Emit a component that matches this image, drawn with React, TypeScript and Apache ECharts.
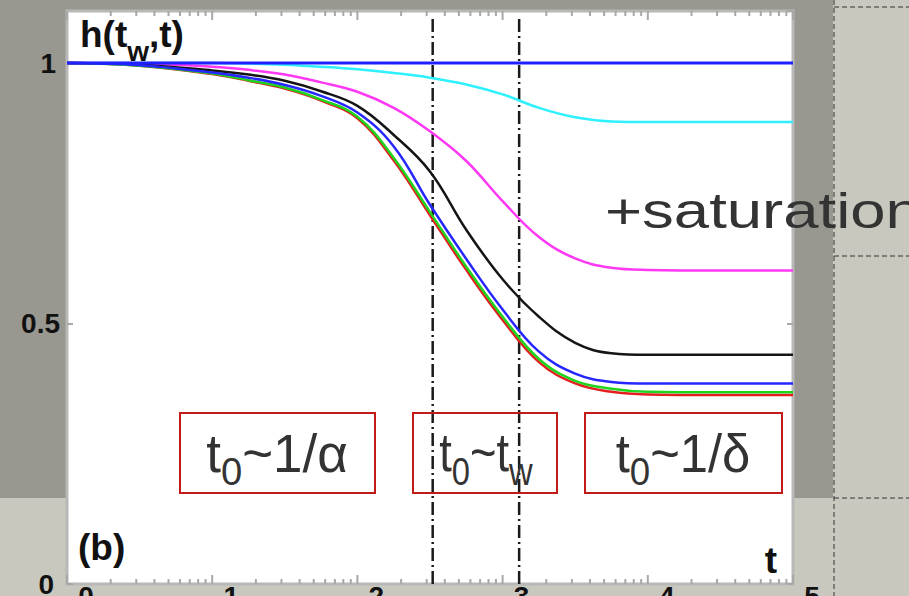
import React, { useEffect, useRef } from 'react';
import * as echarts from 'echarts';

// Sampling times (log-spaced) for every h(t_w, t) curve
const T = [1, 3.16, 10, 17.8, 31.6, 56.2, 100, 178, 316, 562, 1000, 1780, 3160, 5620, 10000, 31600, 100000];

const H_FLAT = [1, 1, 1, 1, 1, 1, 1, 1, 1, 1, 1, 1, 1, 1, 1, 1, 1];
const H_CYAN = [1, 1, 1, 0.999, 0.997, 0.993, 0.988, 0.981, 0.972, 0.959, 0.94, 0.914, 0.896, 0.888, 0.887, 0.887, 0.887];
const H_MAGENTA = [1, 0.999, 0.993, 0.987, 0.978, 0.963, 0.945, 0.914, 0.869, 0.812, 0.735, 0.666, 0.625, 0.607, 0.603, 0.602, 0.602];
const H_BLACK = [1, 0.997, 0.986, 0.978, 0.966, 0.946, 0.918, 0.862, 0.792, 0.68, 0.585, 0.513, 0.463, 0.443, 0.44, 0.44, 0.44];
const H_BLUE = [1, 0.996, 0.982, 0.972, 0.958, 0.937, 0.905, 0.84, 0.728, 0.624, 0.527, 0.446, 0.404, 0.388, 0.385, 0.385, 0.385];
const H_GREEN = [1, 0.995, 0.98, 0.967, 0.953, 0.93, 0.897, 0.818, 0.714, 0.609, 0.513, 0.432, 0.39, 0.375, 0.369, 0.368, 0.368];
const H_RED = [1, 0.995, 0.979, 0.966, 0.951, 0.928, 0.894, 0.813, 0.708, 0.603, 0.507, 0.426, 0.385, 0.369, 0.364, 0.363, 0.363];

// Crossover times marked by the dash-dot verticals
const T_MARKS = [330, 1300];
const MARK_TOP = 1.085;

// Log-axis tick positions: decades and the 2..9 multiples between them
const DECADES = [1, 10, 100, 1000, 10000, 100000];
const MINOR_STEPS = [2, 3, 4, 5, 6, 7, 8, 9];

const Y_TICKS = [0, 0.5, 1];

const FONT = '"Liberation Sans", Arial, Helvetica, sans-serif';
const INK = '#333333';

const curves = [
  { name: 'cyan', values: H_CYAN, color: '#2ef0ff' },
  { name: 'magenta', values: H_MAGENTA, color: '#ff38f4' },
  { name: 'black', values: H_BLACK, color: '#151515' },
  { name: 'red', values: H_RED, color: '#e41e1e' },
  { name: 'green', values: H_GREEN, color: '#1ed41e' },
  { name: 'blue', values: H_BLUE, color: '#2626ff' },
  { name: 'flat', values: H_FLAT, color: '#2020ff' },
];

function buildOption() {
  const tickData: number[][] = [];
  DECADES.forEach((d) => tickData.push([d, 1]));
  DECADES.slice(0, -1).forEach((d) => MINOR_STEPS.forEach((m) => tickData.push([d * m, 0])));

  const lineSeries = curves.map((c) => ({
    type: 'line',
    name: c.name,
    data: T.map((t, i) => [t, c.values[i]]),
    smooth: 0.4,
    showSymbol: false,
    lineStyle: { color: c.color, width: c.name === 'flat' ? 3 : 2.5 },
    itemStyle: { color: c.color },
    silent: true,
  }));

  const markSeries = T_MARKS.map((t) => ({
    type: 'line',
    data: [
      [t, 0],
      [t, MARK_TOP],
    ],
    showSymbol: false,
    lineStyle: { color: '#1a1a1a', width: 2.5, type: [13, 4, 2, 4] },
    silent: true,
    z: 1,
  }));

  const tickSeries = {
    type: 'custom',
    data: tickData,
    encode: { x: 0, y: 1 },
    clip: false,
    silent: true,
    z: 3,
    renderItem: (params: any, api: any) => {
      const t = api.value(0);
      const major = api.value(1) === 1;
      const x = api.coord([t, 0])[0];
      const cs = params.coordSys;
      const len = major ? 9 : 5;
      const style = { stroke: '#a8a8a8', lineWidth: 2 };
      return {
        type: 'group',
        children: [
          { type: 'line', shape: { x1: x, y1: cs.y + cs.height, x2: x, y2: cs.y + cs.height - len }, style },
          { type: 'line', shape: { x1: x, y1: cs.y, x2: x, y2: cs.y + len }, style },
        ],
      };
    },
  };

  const yAxisBase = {
    type: 'value',
    min: 0,
    max: 1.1,
    interval: 0.5,
    splitLine: { show: false },
    axisLine: { show: false },
    axisTick: { show: true, inside: true, length: 6, lineStyle: { color: '#a8a8a8', width: 2 } },
  };

  // Rich text with a lowered subscript: line height lineH decides how far the subscript drops
  const subText = (
    x: number,
    y: number,
    parts: [string, string][],
    main: number,
    sub: number,
    lineH: number,
    weight: string,
    fill: string,
    align = 'center',
    scaleX = 1,
  ) => {
    const text = parts.map(([k, s]) => `{${k}|${s}}`).join('');
    return {
      type: 'text',
      x,
      y,
      z: 20,
      scaleX,
      style: {
        text,
        align,
        verticalAlign: 'middle',
        textAlign: align,
        textVerticalAlign: 'middle',
        rich: {
          m: { fontSize: main, lineHeight: lineH, fontFamily: FONT, fontWeight: weight, fill, verticalAlign: 'middle' },
          s: { fontSize: sub, lineHeight: sub, fontFamily: FONT, fontWeight: weight, fill, verticalAlign: 'bottom' },
        },
      },
    };
  };

  const box = (x: number, w: number) => ({
    type: 'rect',
    z: 19,
    shape: { x, y: 413, width: w, height: 80 },
    style: { fill: 'rgba(0,0,0,0)', stroke: '#c41a1a', lineWidth: 2 },
  });

  const dash = (x1: number, y1: number, x2: number, y2: number) => ({
    type: 'line',
    z: -9,
    shape: { x1, y1, x2, y2 },
    style: { stroke: '#333', lineWidth: 1, lineDash: [5, 3] },
  });

  return {
    animation: false,
    backgroundColor: '#c9c8bf',
    grid: {
      left: 67,
      right: 116,
      top: 11,
      bottom: 12,
      outerBoundsMode: 'none',
      containLabel: false,
      show: true,
      backgroundColor: '#ffffff',
      borderColor: '#b8b8b8',
      borderWidth: 3,
    },
    xAxis: {
      type: 'log',
      logBase: 10,
      min: 1,
      max: 100000,
      splitLine: { show: false },
      axisLine: { show: false },
      axisTick: { show: false },
      axisLabel: {
        margin: -2,
        fontSize: 28,
        fontWeight: 'bold',
        fontFamily: FONT,
        color: '#111',
        padding: [0, 0, 0, 38],
        formatter: (v: number) => String(Math.round(Math.log10(v))),
      },
    },
    yAxis: [
      {
        ...yAxisBase,
        position: 'left',
        axisLabel: {
          margin: 7,
          fontFamily: FONT,
          fontSize: 28,
          fontWeight: 'bold',
          color: '#111',
          showMaxLabel: false,
          formatter: (v: number) => {
            if (v === Y_TICKS[2]) return '{one|1}';
            if (v === Y_TICKS[1]) return '{half|0.5}';
            if (v === Y_TICKS[0]) return '{zero|0}';
            return '';
          },
          rich: {
            one: { fontSize: 28, fontWeight: 'bold', fontFamily: FONT, color: '#111', padding: [0, 4, 0, 0] },
            half: { fontSize: 28, fontWeight: 'bold', fontFamily: FONT, color: '#111' },
            zero: { fontSize: 28, fontWeight: 'bold', fontFamily: FONT, color: '#111', padding: [0, 6, 0, 0] },
          },
        },
      },
      { ...yAxisBase, position: 'right', axisLabel: { show: false } },
    ],
    series: [...markSeries, ...lineSeries, tickSeries],
    graphic: [
      // slide backdrop bands around the plot
      { type: 'rect', z: -10, shape: { x: 0, y: 0, width: 833, height: 498 }, style: { fill: '#989790' } },
      dash(834, 0, 834, 596),
      dash(834, 7, 909, 7),
      dash(834, 256, 909, 256),
      dash(834, 498, 909, 498),
      box(180, 195),
      box(413, 144),
      box(585, 197),
      subText(277, 453, [['m', 't'], ['s', '0'], ['m', '~1/α']], 54, 39, 76, 'normal', INK, 'center', 0.98),
      subText(486, 453, [['m', 't'], ['s', '0'], ['m', '~t'], ['s', 'w']], 54, 39, 76, 'normal', INK, 'center', 0.84),
      subText(683, 453, [['m', 't'], ['s', '0'], ['m', '~1/δ']], 54, 39, 76, 'normal', INK, 'center', 0.94),
      subText(80, 34, [['m', 'h(t'], ['s', 'w'], ['m', ',t)']], 37, 28, 63, 'bold', '#111', 'left'),
      {
        type: 'text',
        x: 78,
        y: 547,
        z: 20,
        style: { text: '(b)', fontSize: 37, fontWeight: 'bold', fontFamily: FONT, fill: '#111', align: 'left', verticalAlign: 'middle', textAlign: 'left', textVerticalAlign: 'middle' },
      },
      {
        type: 'text',
        x: 771,
        y: 560,
        z: 20,
        style: { text: 't', fontSize: 37, fontWeight: 'bold', fontFamily: FONT, fill: '#111', align: 'center', verticalAlign: 'middle', textAlign: 'center', textVerticalAlign: 'middle' },
      },
      {
        type: 'text',
        x: 605,
        y: 211,
        z: 20,
        scaleX: 1.27,
        style: { text: '+saturation', fontSize: 50, fontFamily: FONT, fill: INK, align: 'left', verticalAlign: 'middle', textAlign: 'left', textVerticalAlign: 'middle' },
      },
    ],
  };
}

export default function App() {
  const ref = useRef<HTMLDivElement>(null);
  useEffect(() => {
    if (!ref.current) return;
    const chart = echarts.init(ref.current, null, { renderer: 'svg' });
    chart.setOption(buildOption() as any);
    return () => chart.dispose();
  }, []);
  return <div ref={ref} style={{ position: 'fixed', left: 0, top: 0, width: 909, height: 596 }} />;
}
